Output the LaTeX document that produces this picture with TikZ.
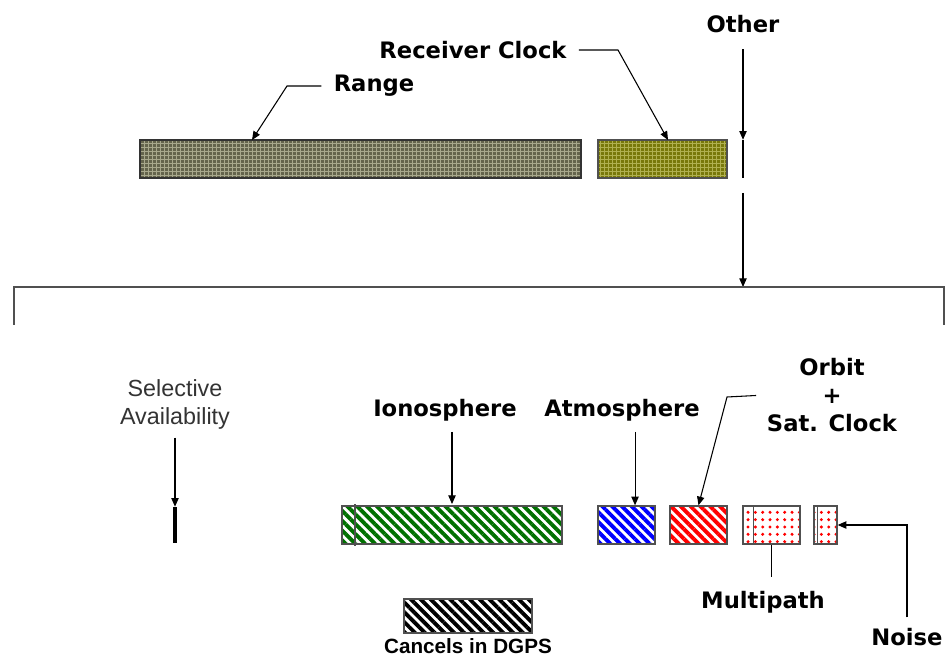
\documentclass[tikz,border=0pt]{standalone}
\usepackage{fontspec}
\setmainfont{DejaVu Sans}
\newfontfamily\arialfont{Liberation Sans}
\usetikzlibrary{arrows.meta,patterns.meta}

\definecolor{rangecol}{RGB}{100,100,76}
\definecolor{rangegrid}{RGB}{168,168,140}
\definecolor{clockcol}{RGB}{120,120,10}
\definecolor{clockgrid}{RGB}{176,176,80}
\definecolor{ioncol}{RGB}{0,112,0}
\definecolor{edgecol}{RGB}{80,80,80}

\begin{document}
\begin{tikzpicture}[x=0.75pt,y=-0.75pt]
      \useasboundingbox (0,0) rectangle (946,659);

      \tikzstyle{lbl}=[font=\fontsize{17}{21}\selectfont\bfseries,inner sep=1pt]
      \tikzstyle{bar}=[rectangle,draw=edgecol,line width=1pt,
        minimum height=28.5pt,inner sep=0pt]
      \tikzstyle{gridfill}=[pattern={Hatch[angle=0,distance=3pt,line width=0.5pt]}]
      \tikzstyle{stripes}=[pattern={Lines[angle=-45,distance=5.2pt,line width=2.9pt]}]
      \tikzstyle{dots}=[pattern={Dots[distance=5.5pt,radius=1.25pt]},pattern color=red]
      \tikzstyle{ar}=[-{Triangle[length=6.5pt,width=5.5pt]},line width=0.8pt]
      \tikzstyle{ln}=[line width=0.8pt]
      \tikzstyle{sep}=[edgecol,line width=1.2pt]

      % top row
      \node[bar][draw=black!80,line width=1.3pt,preaction={fill=rangecol},
        gridfill,pattern color=rangegrid,
        minimum width=330.75pt] (rng) at (360.5,159) {};
      \node[bar][preaction={fill=clockcol},gridfill,pattern color=clockgrid,
        minimum width=96.75pt] (clk) at (662.5,159) {};
      \node[fill=black,minimum width=0.9pt,minimum height=28.5pt,inner sep=0pt]
        (oth) at (743,159) {};

      \node[lbl] (othl) at (743,24)  {Other};
      \node[lbl] (clkl) at (473,50)  {Receiver Clock};
      \node[lbl] (rngl) at (374,86)  {Range};

      \coordinate (rngtip) at (252,140);
      \coordinate (clktip) at (668,140);
      \coordinate (brk)    at (743,287);

      \draw[ar,shorten <=8pt] (rngl.west) -- (287,86) -- (rngtip);
      \draw[ar,shorten <=8pt] (clkl.east) -- (618,50) -- (clktip);
      \draw[ar,shorten <=11pt] (othl.south) -- (oth.north);
      \draw[ar,shorten <=11pt] (oth.south) -- (brk);

      \draw[edgecol,line width=1.1pt] (14,325) -- (14,287) -- (944,287) -- (944,325);

      % bottom row
      \node[fill=black,minimum width=2.6pt,minimum height=27pt,inner sep=0pt]
        (sa) at (175,525) {};
      \node[bar][stripes,pattern color=ioncol,minimum width=165pt]
        (ion) at (452,525) {};
      \node[bar][stripes,pattern color=blue,minimum width=42.75pt]
        (atm) at (626.5,525) {};
      \node[bar][stripes,pattern color=red,minimum width=42.75pt]
        (orb) at (698.5,525) {};
      \node[bar][dots,minimum width=42.75pt] (mp) at (771.5,525) {};
      \node[bar][dots,minimum width=17.25pt] (ns) at (825.5,525) {};
      \node[bar][stripes,pattern color=black,minimum width=96pt,minimum height=25.5pt]
        (dgps) at (468,616) {};

      \draw[sep] ([xshift=11.25pt]ion.north west) -- ([xshift=11.25pt]ion.south west);
      \draw[sep] ([xshift=8.25pt]mp.north west) -- ([xshift=8.25pt]mp.south west);
      \draw[sep] ([xshift=3pt]ns.north west) -- ([xshift=3pt]ns.south west);

      \node[font=\arialfont\fontsize{17.5}{21}\selectfont,text=black!80,align=center]
        (sal) at (175,404) {Selective\\Availability};
      \node[lbl] (ionl) at (445,410) {Ionosphere};
      \node[lbl] (atml) at (622,410) {Atmosphere};
      \node[lbl,align=center] (orbl) at (832,395) {Orbit\\+\\Sat. Clock};
      \node[lbl] (mpl)  at (763,602) {Multipath};
      \node[lbl] (nsl)  at (907,637) {Noise};
      \node[font=\arialfont\bfseries\fontsize{15.5}{18}\selectfont,inner sep=1pt]
        (dgpsl) at (468,646) {Cancels in DGPS};

      \draw[ar,shorten <=3pt] (sal.south) -- (sa.north);
      \draw[ar,shorten <=7pt] (ion.north |- ionl.south) -- (ion.north);
      \draw[ar,shorten <=7pt] ([xshift=6.4pt]atm.north |- atml.south) -- ([xshift=6.4pt]atm.north);
      \draw[ar,shorten <=7pt] (orbl.west) -- (727,397) -- (orb.north);
      \draw[ln,shorten >=9pt] (mp.south) -- (mp.south |- mpl.north);
      \draw[ar,shorten <=7pt] (nsl.north) -- (nsl.north |- ns.east) -- (ns.east);

\end{tikzpicture}
\end{document}
